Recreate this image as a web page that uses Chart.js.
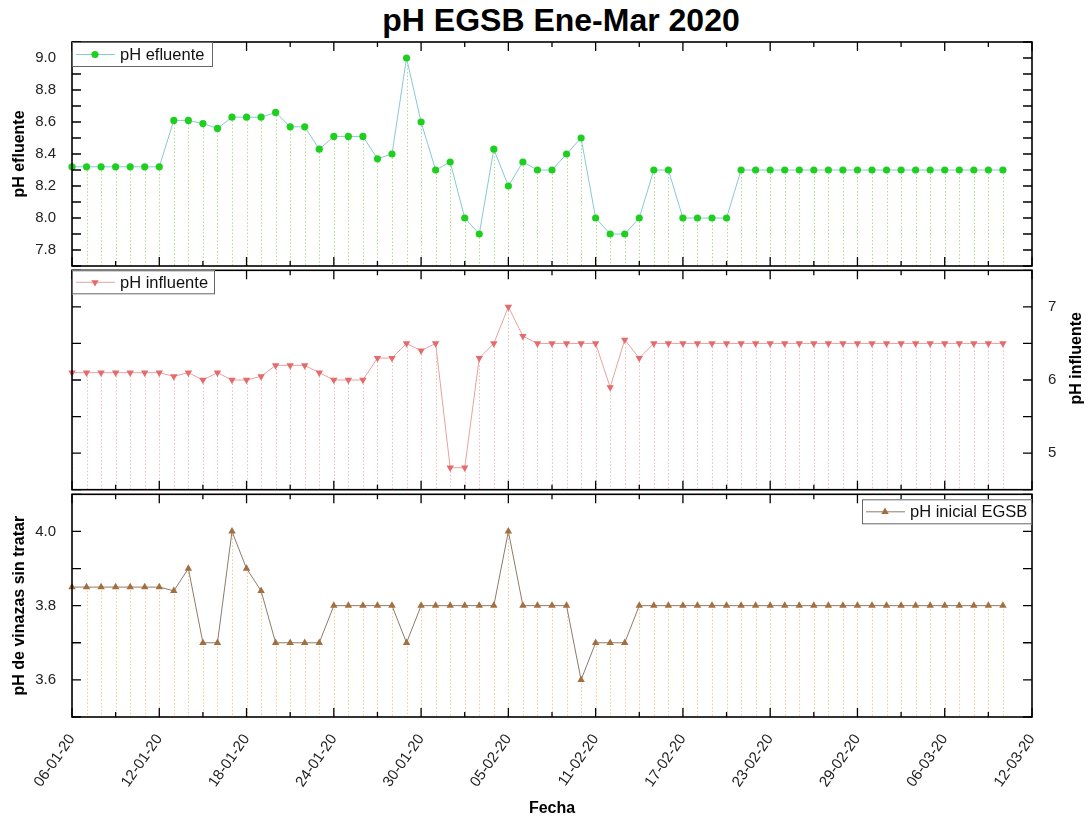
<!DOCTYPE html>
<html>
<head>
<meta charset="utf-8">
<title>pH EGSB Ene-Mar 2020</title>
<script src="https://cdn.jsdelivr.net/npm/chart.js@4.4.1/dist/chart.umd.min.js"></script>
<style>
  html, body { margin: 0; padding: 0; background: #fff; overflow: hidden; }
  #wrap { position: relative; width: 1088px; height: 822px; }
  #title {
    position: absolute; left: 0; top: 2px; width: 1088px; padding-left: 34px;
    box-sizing: border-box; text-align: center; line-height: 36px;
    font: bold 32px "Liberation Sans", Arial, sans-serif; color: #000;
  }
  canvas { position: absolute; left: 0; }
</style>
</head>
<body>
<div id="wrap">
  <div id="title">pH EGSB Ene-Mar 2020</div>
  <canvas id="efluenteChart" width="1088" height="270" style="top:0"></canvas>
  <canvas id="influenteChart" width="1088" height="228" style="top:266px"></canvas>
  <canvas id="inicialChart" width="1088" height="332" style="top:490px"></canvas>
</div>
<script>
// one value per day, first point = 06-01-20
const tickLabels = [
  "06-01-20", "12-01-20", "18-01-20", "24-01-20", "30-01-20", "05-02-20",
  "11-02-20", "17-02-20", "23-02-20", "29-02-20", "06-03-20", "12-03-20"
];

const phEfluente = [
  8.32, 8.32, 8.32, 8.32, 8.32, 8.32, 8.32, 8.61, 8.61, 8.59,
  8.56, 8.63, 8.63, 8.63, 8.66, 8.57, 8.57, 8.43, 8.51, 8.51,
  8.51, 8.37, 8.40, 9.00, 8.60, 8.30, 8.35, 8.00, 7.90, 8.43,
  8.20, 8.35, 8.30, 8.30, 8.40, 8.50, 8.00, 7.90, 7.90, 8.00,
  8.30, 8.30, 8.00, 8.00, 8.00, 8.00, 8.30, 8.30, 8.30, 8.30,
  8.30, 8.30, 8.30, 8.30, 8.30, 8.30, 8.30, 8.30, 8.30, 8.30,
  8.30, 8.30, 8.30, 8.30, 8.30
];

const phInfluente = [
  6.10, 6.10, 6.10, 6.10, 6.10, 6.10, 6.10, 6.05, 6.10, 6.00,
  6.10, 6.00, 6.00, 6.05, 6.20, 6.20, 6.20, 6.10, 6.00, 6.00,
  6.00, 6.30, 6.30, 6.50, 6.40, 6.50, 4.80, 4.80, 6.30, 6.50,
  7.00, 6.60, 6.50, 6.50, 6.50, 6.50, 6.50, 5.90, 6.55, 6.30,
  6.50, 6.50, 6.50, 6.50, 6.50, 6.50, 6.50, 6.50, 6.50, 6.50,
  6.50, 6.50, 6.50, 6.50, 6.50, 6.50, 6.50, 6.50, 6.50, 6.50,
  6.50, 6.50, 6.50, 6.50, 6.50
];

const phInicial = [
  3.85, 3.85, 3.85, 3.85, 3.85, 3.85, 3.85, 3.84, 3.90, 3.70,
  3.70, 4.00, 3.90, 3.84, 3.70, 3.70, 3.70, 3.70, 3.80, 3.80,
  3.80, 3.80, 3.80, 3.70, 3.80, 3.80, 3.80, 3.80, 3.80, 3.80,
  4.00, 3.80, 3.80, 3.80, 3.80, 3.60, 3.70, 3.70, 3.70, 3.80,
  3.80, 3.80, 3.80, 3.80, 3.80, 3.80, 3.80, 3.80, 3.80, 3.80,
  3.80, 3.80, 3.80, 3.80, 3.80, 3.80, 3.80, 3.80, 3.80, 3.80,
  3.80, 3.80, 3.80, 3.80, 3.80
];

const FONT = "'Liberation Sans', Arial, sans-serif";
const DAYS_SHOWN = 66;

function toPoints(values) {
  return values.map(function (v, i) {
    return { x: i, y: v };
  });
}

function drawMarker(ctx, style, x, y, r, color) {
  ctx.save();
  ctx.fillStyle = color;
  ctx.beginPath();
  if (style === "circle") {
    ctx.arc(x, y, r, 0, Math.PI * 2);
  } else {
    const dir = style === "down" ? -1 : 1;
    const h = r * 1.5;
    const half = r * 0.866;
    ctx.moveTo(x, y - dir * r);
    ctx.lineTo(x + half, y - dir * r + dir * h);
    ctx.lineTo(x - half, y - dir * r + dir * h);
    ctx.closePath();
  }
  ctx.fill();
  ctx.restore();
}

// drop lines, frame with inward ticks, boxed legend, extra axis title
const panelPlugin = {
  id: "panel",
  beforeDatasetsDraw: function (chart, args, opts) {
    const area = chart.chartArea;
    const ctx = chart.ctx;
    const meta = chart.getDatasetMeta(0);
    ctx.save();
    ctx.strokeStyle = opts.dropColor;
    ctx.lineWidth = 1;
    ctx.setLineDash([1.5, 2]);
    meta.data.forEach(function (pt) {
      const px = Math.round(pt.x) + 0.5;
      ctx.beginPath();
      ctx.moveTo(px, pt.y);
      ctx.lineTo(px, area.bottom);
      ctx.stroke();
    });
    ctx.restore();
  },
  afterDraw: function (chart, args, opts) {
    const area = chart.chartArea;
    const ctx = chart.ctx;
    const xs = chart.scales.x;
    const ys = chart.scales.y;
    ctx.save();
    ctx.strokeStyle = "#000";
    ctx.lineWidth = 1.3;
    for (let d = 0; d <= DAYS_SHOWN; d += 3) {
      const px = xs.getPixelForValue(d);
      const len = d % 6 === 0 ? 9 : 5;
      ctx.beginPath();
      ctx.moveTo(px, area.bottom);
      ctx.lineTo(px, area.bottom - len);
      ctx.moveTo(px, area.top);
      ctx.lineTo(px, area.top + len);
      ctx.stroke();
    }
    ys.ticks.forEach(function (t) {
      const py = ys.getPixelForValue(t.value);
      ctx.beginPath();
      ctx.moveTo(area.left, py);
      ctx.lineTo(area.left + 9, py);
      ctx.moveTo(area.right, py);
      ctx.lineTo(area.right - 9, py);
      ctx.stroke();
    });
    ctx.lineWidth = 1.6;
    ctx.strokeRect(area.left, area.top, area.right - area.left, area.bottom - area.top);

    const lg = opts.legend;
    const lx = lg.alignRight ? area.right - lg.width : area.left;
    const ly = area.top + lg.offsetY;
    ctx.lineWidth = 1;
    ctx.strokeStyle = "#666";
    ctx.fillStyle = "#fff";
    ctx.fillRect(lx, ly, lg.width, lg.height);
    ctx.strokeRect(lx + 0.5, ly + 0.5, lg.width - 1, lg.height - 1);
    const my = ly + lg.height / 2;
    ctx.strokeStyle = opts.lineColor;
    ctx.beginPath();
    ctx.moveTo(lx + 4, my);
    ctx.lineTo(lx + 43, my);
    ctx.stroke();
    drawMarker(ctx, opts.marker, lx + 23, my, opts.markerSize, opts.markerColor);
    ctx.fillStyle = "#111";
    ctx.font = "16.5px " + FONT;
    ctx.textBaseline = "middle";
    ctx.textAlign = "left";
    ctx.fillText(lg.text, lx + 48, my + 1);

    if (opts.rightTitle) {
      ctx.translate(area.right + 45, area.top + 88);
      ctx.rotate(-Math.PI / 2);
      ctx.font = "bold 16px " + FONT;
      ctx.textAlign = "center";
      ctx.fillStyle = "#000";
      ctx.fillText(opts.rightTitle, 0, 0);
    }
    ctx.restore();
  }
};

function baseDataset(label, values, lineColor, markerColor, pointStyle, rotation, radius) {
  return {
    label: label,
    data: toPoints(values),
    borderColor: lineColor,
    borderWidth: 1,
    pointStyle: pointStyle,
    pointRotation: rotation,
    pointRadius: radius,
    pointBackgroundColor: markerColor,
    pointBorderColor: markerColor,
    pointBorderWidth: 0,
    tension: 0,
    clip: false
  };
}

function yScale(min, max, step, position, labelFn, title) {
  return {
    type: "linear",
    position: position,
    min: min,
    max: max,
    grid: { display: false, drawTicks: false },
    border: { display: false },
    ticks: {
      stepSize: step,
      autoSkip: false,
      padding: 16,
      color: "#222",
      font: { size: 15, family: FONT },
      callback: labelFn
    },
    title: {
      display: !!title,
      text: title,
      color: "#000",
      font: { size: 16, weight: "bold", family: FONT },
      padding: { top: 10, bottom: 0 }
    },
    afterFit: function (s) {
      s.width = position === "left" ? 72 : 56;
      s.paddingTop = 0;
      s.paddingBottom = 0;
    }
  };
}

function evenTenths(v) {
  return Math.round(v * 10) % 2 === 0 ? v.toFixed(1) : "";
}

function hiddenX() {
  return { type: "linear", min: 0, max: DAYS_SHOWN, display: false };
}

function commonOptions(padding, scales, panel) {
  return {
    responsive: false,
    animation: false,
    events: [],
    layout: { padding: padding },
    plugins: {
      legend: { display: false },
      tooltip: { enabled: false },
      title: { display: false },
      panel: panel
    },
    scales: scales
  };
}

function init() {
  Chart.defaults.font.family = FONT;

  new Chart(document.getElementById("efluenteChart"), {
    type: "line",
    data: {
      datasets: [baseDataset("pH efluente", phEfluente, "#86c9d2", "#1fcf1f", "circle", 0, 3.6)]
    },
    options: commonOptions(
      { top: 42, right: 56, bottom: 2, left: 0 },
      { x: hiddenX(), y: yScale(7.7, 9.1, 0.1, "left", evenTenths, "pH efluente") },
      {
        dropColor: "#b3dc8e",
        lineColor: "#86c9d2",
        marker: "circle",
        markerSize: 3.6,
        markerColor: "#1fcf1f",
        legend: { text: "pH efluente", width: 141, height: 25, offsetY: 0, alignRight: false }
      }
    ),
    plugins: [panelPlugin]
  });

  new Chart(document.getElementById("influenteChart"), {
    type: "line",
    data: {
      datasets: [baseDataset("pH influente", phInfluente, "#eaa0a0", "#e56a6a", "triangle", 180, 4.3)]
    },
    options: commonOptions(
      { top: 2, right: 0, bottom: 2, left: 72 },
      {
        x: hiddenX(),
        y: yScale(4.5, 7.5, 0.5, "right", function (v) {
          return Number.isInteger(v) ? String(v) : "";
        }, "")
      },
      {
        dropColor: "#f1bcbc",
        lineColor: "#eaa0a0",
        marker: "down",
        markerSize: 4.3,
        markerColor: "#e56a6a",
        rightTitle: "pH influente",
        legend: { text: "pH influente", width: 143, height: 24, offsetY: 0, alignRight: false }
      }
    ),
    plugins: [panelPlugin]
  });

  new Chart(document.getElementById("inicialChart"), {
    type: "line",
    data: {
      datasets: [baseDataset("pH inicial EGSB", phInicial, "#8e7b6a", "#a46f3f", "triangle", 0, 4.3)]
    },
    options: commonOptions(
      { top: 2, right: 56, bottom: 0, left: 0 },
      {
        x: {
          type: "linear",
          min: 0,
          max: DAYS_SHOWN,
          grid: { display: false, drawTicks: false },
          border: { display: false },
          ticks: {
            stepSize: 6,
            autoSkip: false,
            minRotation: 55,
            maxRotation: 55,
            padding: 14,
            color: "#222",
            font: { size: 15, family: FONT },
            callback: function (v) {
              const lbl = tickLabels[v / 6];
              return lbl === undefined ? "" : lbl;
            }
          },
          title: {
            display: true,
            text: "Fecha",
            color: "#000",
            font: { size: 16, weight: "bold", family: FONT },
            padding: { top: 0, bottom: 4 }
          },
          afterFit: function (s) {
            s.height = 105;
            s.paddingLeft = 0;
            s.paddingRight = 0;
          }
        },
        y: yScale(3.5, 4.1, 0.1, "left", evenTenths, "pH de vinazas sin tratar")
      },
      {
        dropColor: "#f2cb94",
        lineColor: "#8e7b6a",
        marker: "up",
        markerSize: 4.3,
        markerColor: "#a46f3f",
        legend: { text: "pH inicial EGSB", width: 170, height: 25, offsetY: 5, alignRight: true }
      }
    ),
    plugins: [panelPlugin]
  });
}

if (document.readyState === "loading") {
  document.addEventListener("DOMContentLoaded", init);
} else {
  init();
}
</script>
</body>
</html>
